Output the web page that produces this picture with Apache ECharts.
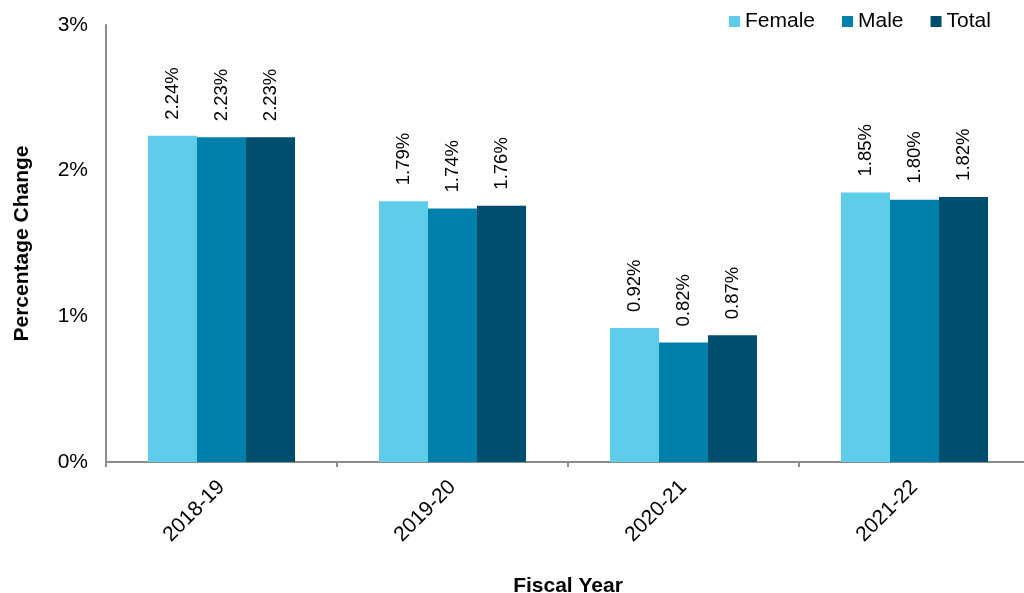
<!DOCTYPE html>
<html>
<head>
<meta charset="utf-8">
<script src="https://cdn.jsdelivr.net/npm/echarts@6/dist/echarts.min.js"></script>
<style>
  html, body { margin: 0; padding: 0; background: #fff; }
  #chart { width: 1024px; height: 593px; }
</style>
</head>
<body>
<div id="chart"></div>
<script>
// Fiscal years on the category axis
const years = ['2018-19', '2019-20', '2020-21', '2021-22'];
// Percentage change by group
const female = [2.24, 1.79, 0.92, 1.85];
const male = [2.23, 1.74, 0.82, 1.80];
const total = [2.23, 1.76, 0.87, 1.82];
const seriesNames = ['Female', 'Male', 'Total'];
const colors = ['#5ECDE9', '#0080AA', '#004E6E'];

const FONT = 'Liberation Sans, Arial, sans-serif';

function barSeries(name, data, color) {
  return {
    name: name,
    type: 'bar',
    data: data,
    barWidth: 49,
    barGap: '0%',
    itemStyle: { color: color },
    label: {
      show: true,
      position: 'top',
      rotate: 90,
      distance: 16,
      align: 'left',
      verticalAlign: 'middle',
      color: '#000',
      fontFamily: FONT,
      fontSize: 18.5,
      formatter: p => p.value.toFixed(2) + '%'
    }
  };
}

const chart = echarts.init(document.getElementById('chart'));
chart.setOption({
  animation: false,
  textStyle: { fontFamily: FONT },
  color: colors,
  legend: {
    top: 6,
    left: 724,
    itemWidth: 11,
    itemHeight: 11,
    itemGap: 27,
    icon: 'rect',
    textStyle: { fontFamily: FONT, fontSize: 21, color: '#000' },
    data: seriesNames
  },
  grid: {
    left: 106,
    top: 25,
    width: 924,
    bottom: 131,
    containLabel: false,
    outerBoundsMode: 'none'
  },
  xAxis: {
    type: 'category',
    data: years,
    name: 'Fiscal Year',
    nameLocation: 'middle',
    nameGap: 114,
    nameTextStyle: { fontFamily: FONT, fontSize: 21, fontWeight: 'bold', color: '#000' },
    axisLine: { lineStyle: { color: '#8c8c8c', width: 2 } },
    axisTick: { show: true, length: 5, lineStyle: { color: '#8c8c8c', width: 2 } },
    axisLabel: { rotate: 45, margin: 22, fontFamily: FONT, fontSize: 21, color: '#000' }
  },
  yAxis: {
    type: 'value',
    min: 0,
    max: 3,
    interval: 1,
    name: 'Percentage Change',
    nameLocation: 'middle',
    nameGap: 73,
    nameTextStyle: { fontFamily: FONT, fontSize: 21, fontWeight: 'bold', color: '#000' },
    axisLine: { show: true, lineStyle: { color: '#8c8c8c', width: 2 } },
    axisTick: { show: false },
    splitLine: { show: false },
    axisLabel: {
      margin: 18,
      fontFamily: FONT,
      fontSize: 21,
      color: '#000',
      formatter: v => v + '%'
    }
  },
  series: [
    barSeries(seriesNames[0], female, colors[0]),
    barSeries(seriesNames[1], male, colors[1]),
    barSeries(seriesNames[2], total, colors[2])
  ]
});
</script>
</body>
</html>
